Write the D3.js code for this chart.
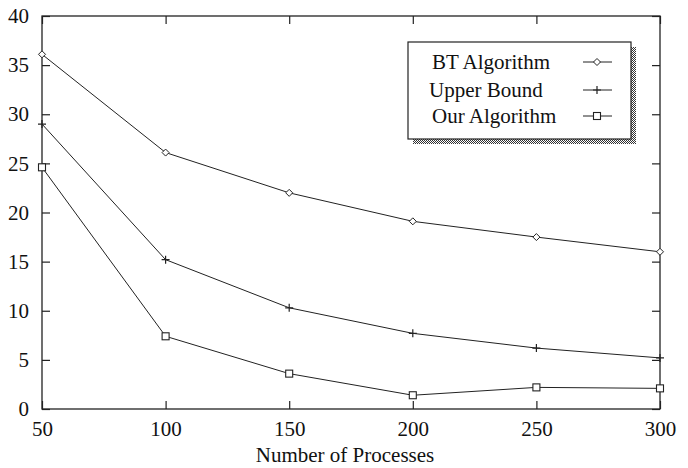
<!DOCTYPE html>
<html>
<head>
<meta charset="utf-8">
<script src="https://cdn.jsdelivr.net/npm/d3@7"></script>
<style>
body { margin:0; background:#fff; }
text { font-family:"Liberation Serif","Times New Roman",serif; fill:#111; }
</style>
</head>
<body>
<svg id="chart" width="688" height="468"></svg>
<script>
var processes = [50, 100, 150, 200, 250, 300]
var btAlgorithm = [36.1, 26.1, 22.0, 19.1, 17.5, 16.0]
var upperBound = [29.0, 15.2, 10.3, 7.7, 6.2, 5.2]
var ourAlgorithm = [24.6, 7.4, 3.6, 1.4, 2.2, 2.1]
var xTicks = [50, 100, 150, 200, 250, 300]
var yTicks = [0, 5, 10, 15, 20, 25, 30, 35, 40]
var seriesNames = ["BT Algorithm", "Upper Bound", "Our Algorithm"]
var seriesMarks = ["diamond", "plus", "square"]

var svg = d3.select("#chart")
var margins = {top:16, left:42, right:28, bottom:59}
var graph = {width: 688-margins.left-margins.right, height: 468-margins.top-margins.bottom}

var xScale = d3.scaleLinear().domain([50,300]).range([0,graph.width])
var yScale = d3.scaleLinear().domain([0,40]).range([graph.height,0])

var g = svg.append("g")
    .attr("transform","translate("+margins.left+","+margins.top+")")

// stipple pattern for legend shadow
var defs = svg.append("defs")
var pat = defs.append("pattern").attr("id","dots")
    .attr("width",2).attr("height",2).attr("patternUnits","userSpaceOnUse")
pat.append("rect").attr("width",2).attr("height",2).attr("fill","#fff")
pat.append("rect").attr("width",1).attr("height",1).attr("fill","#333")
pat.append("rect").attr("x",1).attr("y",1).attr("width",1).attr("height",1).attr("fill","#333")

// frame
g.append("rect").attr("width",graph.width).attr("height",graph.height)
    .attr("fill","none").attr("stroke","#222").attr("stroke-width",1.3)

// axes, ticks inward on all four sides
var tk = 8
g.append("g").attr("transform","translate(0,"+graph.height+")")
    .call(d3.axisBottom(xScale).tickValues(xTicks).tickSizeInner(-tk).tickSizeOuter(0).tickPadding(12))
g.append("g")
    .call(d3.axisTop(xScale).tickValues(xTicks).tickSizeInner(-tk).tickSizeOuter(0).tickFormat(""))
g.append("g")
    .call(d3.axisLeft(yScale).tickValues(yTicks).tickSizeInner(-tk).tickSizeOuter(0).tickPadding(13))
g.append("g").attr("transform","translate("+graph.width+",0)")
    .call(d3.axisRight(yScale).tickValues(yTicks).tickSizeInner(-tk).tickSizeOuter(0).tickFormat(""))

g.selectAll(".domain").remove()
g.selectAll(".tick line").attr("stroke","#222").attr("stroke-width",1.2)
g.selectAll(".tick text").style("font-size","21px").attr("fill","#111")

svg.append("text").text("Number of Processes")
    .attr("x",345).attr("y",462)
    .attr("text-anchor","middle").style("font-size","21px")

var drawMark = function(sel, kind, x, y)
{
    if (kind=="diamond")
        sel.append("path").attr("d","M"+x+","+(y-3.5)+"L"+(x+3.5)+","+y+"L"+x+","+(y+3.5)+"L"+(x-3.5)+","+y+"Z")
            .attr("fill","#fff").attr("stroke","#222").attr("stroke-width",1)
    else if (kind=="plus")
        sel.append("path").attr("d","M"+(x-4)+","+y+"H"+(x+4)+"M"+x+","+(y-4)+"V"+(y+4))
            .attr("stroke","#222").attr("stroke-width",1.2)
    else
        sel.append("rect").attr("x",x-3.5).attr("y",y-3.5).attr("width",7).attr("height",7)
            .attr("fill","#fff").attr("stroke","#222").attr("stroke-width",1.1)
}

var allSeries = [btAlgorithm, upperBound, ourAlgorithm]
var line = d3.line()
    .x(function(d,i){ return xScale(processes[i]) })
    .y(function(d){ return yScale(d) })

allSeries.forEach(function(vals, s)
{
    g.append("path").datum(vals).attr("d",line)
        .attr("fill","none").attr("stroke","#222").attr("stroke-width",1)
    vals.forEach(function(v,i){ drawMark(g, seriesMarks[s], xScale(processes[i]), yScale(v)) })
})

// legend
var lg = svg.append("g")
lg.append("rect").attr("x",413).attr("y",47).attr("width",223).attr("height",97).attr("fill","url(#dots)")
lg.append("rect").attr("x",408).attr("y",42).attr("width",223).attr("height",97)
    .attr("fill","#fff").attr("stroke","#222").attr("stroke-width",1.2)
var rowY = [62, 90, 116]
var rowX = [432, 429, 432]
seriesNames.forEach(function(name, s)
{
    lg.append("text").text(name).attr("x",rowX[s]).attr("y",rowY[s]+7).style("font-size","21px")
    lg.append("line").attr("x1",583).attr("x2",612).attr("y1",rowY[s]).attr("y2",rowY[s])
        .attr("stroke","#222").attr("stroke-width",1)
    drawMark(lg, seriesMarks[s], 597, rowY[s])
})
</script>
</body>
</html>
